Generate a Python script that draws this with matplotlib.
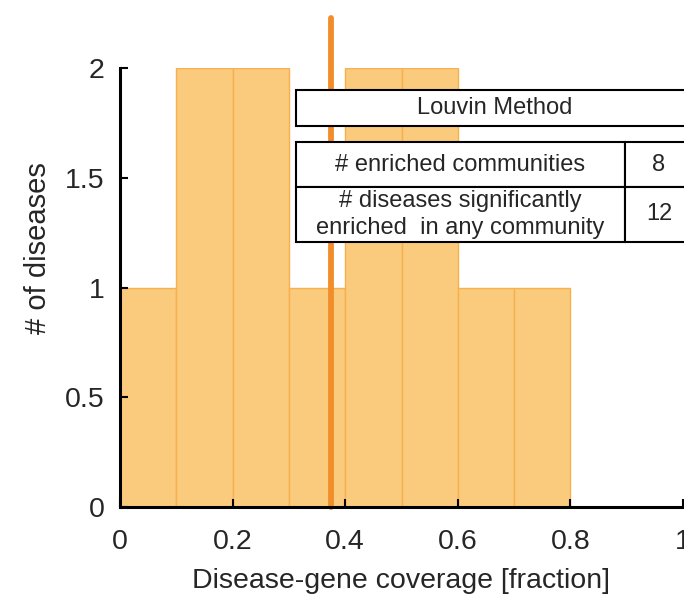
import matplotlib
matplotlib.use("Agg")
import matplotlib.pyplot as plt
from matplotlib.patches import Rectangle

plt.rcParams['font.family'] = ['Liberation Sans', 'DejaVu Sans']

# Histogram of disease-gene coverage (bin width 0.1)
bin_edges = [0.0, 0.1, 0.2, 0.3, 0.4, 0.5, 0.6, 0.7, 0.8]
counts = [1, 2, 2, 1, 2, 2, 1, 1]
mean_coverage = 0.374
mean_line_top = 2.23

x_ticks = [0, 0.2, 0.4, 0.6, 0.8, 1]
x_tick_labels = ["0", "0.2", "0.4", "0.6", "0.8", "1"]
y_ticks = [0, 0.5, 1, 1.5, 2]
y_tick_labels = ["0", "0.5", "1", "1.5", "2"]

table_title = "Louvin Method"
table_rows = ["# enriched communities",
              "# diseases significantly\nenriched  in any community"]
table_values = ["8", "12"]

text_color = '#262626'

fig = plt.figure(figsize=(6.84, 5.97), dpi=100)
ax = fig.add_axes([120/684, 1 - 507/597, 563/684, 439/597])

widths = [b - a for a, b in zip(bin_edges[:-1], bin_edges[1:])]
ax.bar(bin_edges[:-1], counts, width=widths, align='edge',
       color='#FBCB7D', edgecolor='#F6B04F', linewidth=1.0, zorder=1)

ax.plot([mean_coverage, mean_coverage], [0, mean_line_top],
        color='#F28D2B', linewidth=4.2, solid_capstyle='round',
        clip_on=False, zorder=3)

ax.set_xlim(0, 1)
ax.set_ylim(0, 2)
ax.set_xticks(x_ticks)
ax.set_xticklabels(x_tick_labels)
ax.set_yticks(y_ticks)
ax.set_yticklabels(y_tick_labels)
ax.tick_params(direction='in', length=6, width=1.5, labelsize=20.5,
               colors='black', labelcolor=text_color)
ax.tick_params(axis='x', pad=16)
ax.tick_params(axis='y', pad=11)
for side in ('top', 'right'):
    ax.spines[side].set_visible(False)
for side in ('left', 'bottom'):
    ax.spines[side].set_linewidth(2.2)
    ax.spines[side].set_zorder(4)

ax.set_xlabel("Disease-gene coverage [fraction]", fontsize=20.5,
              color=text_color, labelpad=9)
ax.set_ylabel("# of diseases", fontsize=21, color=text_color)
ax.yaxis.set_label_coords(-0.121, 0.59)

# Summary table drawn on top of the histogram
tr = ax.transAxes
x0, x1, xdiv = 0.3126, 1.0178, 0.897
lw = 1.5
table_fs = 17
ax.add_patch(Rectangle((x0, 0.868), x1 - x0, 0.950 - 0.868, transform=tr,
                       facecolor='white', edgecolor='black', linewidth=lw,
                       clip_on=False, zorder=5))
ax.text((x0 + x1) / 2, (0.868 + 0.950) / 2, table_title, transform=tr,
        ha='center', va='center', fontsize=table_fs, color=text_color, zorder=6)

row_bounds = [(0.729, 0.831), (0.604, 0.729)]
for (yb, yt), label, value in zip(row_bounds, table_rows, table_values):
    ax.add_patch(Rectangle((x0, yb), xdiv - x0, yt - yb, transform=tr,
                           facecolor='white', edgecolor='black', linewidth=lw,
                           clip_on=False, zorder=5))
    ax.add_patch(Rectangle((xdiv, yb), x1 - xdiv, yt - yb, transform=tr,
                           facecolor='white', edgecolor='black', linewidth=lw,
                           clip_on=False, zorder=5))
    ax.text((x0 + xdiv) / 2, (yb + yt) / 2, label, transform=tr,
            ha='center', va='center', fontsize=table_fs, color=text_color,
            linespacing=1.3, zorder=6)
    ax.text((xdiv + x1) / 2, (yb + yt) / 2, value, transform=tr,
            ha='center', va='center', fontsize=table_fs, color=text_color,
            zorder=6)

fig.savefig("out.png", dpi=100)
